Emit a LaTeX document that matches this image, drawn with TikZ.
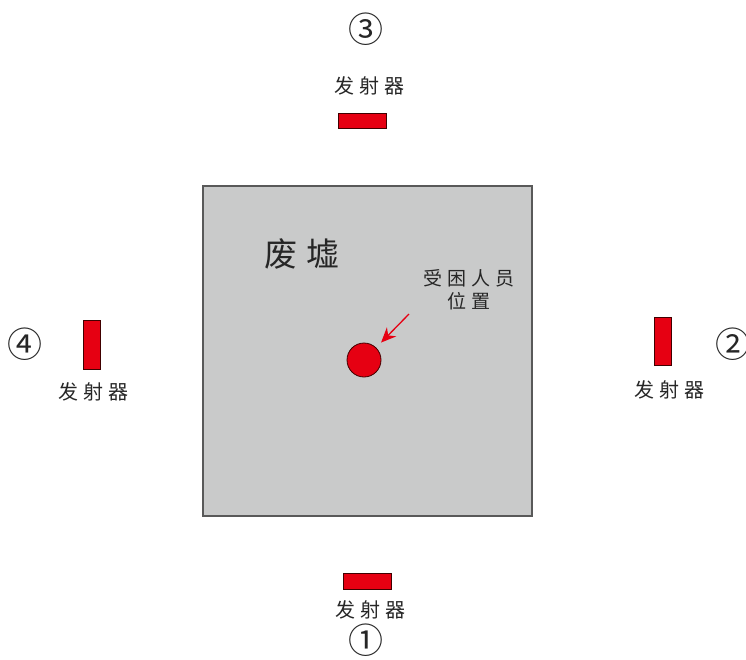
\documentclass[tikz,border=0pt]{standalone}
\usepackage{fontspec}
\usetikzlibrary{arrows.meta}
\newfontfamily\cjk[LetterSpace=25]{Noto Sans CJK SC}
\newfontfamily\cjknum{Noto Sans CJK SC}
\definecolor{ruingray}{HTML}{C9CACA}
\definecolor{emitred}{HTML}{E60012}
\begin{document}
\begin{tikzpicture}[x=1pt,y=-1pt,
  emitter/.style={fill=emitred,draw=black!75!red,line width=0.8pt},
  tag/.style={font=\cjk\fontsize{20}{22}\selectfont,text=black!85,inner sep=0pt},
  num/.style={font=\cjknum\fontsize{35}{36}\selectfont,text=black!85,inner sep=0pt}]
\useasboundingbox (0,0) rectangle (746,659);
% ruins
\draw [fill = ruingray, draw = black!65, line width = 1.5pt] (203,186) rectangle (532,516);
\node[tag,font=\cjk\fontsize{33}{36}\selectfont] (ruins) at (302,254) {废墟};
\node[tag,align=center,font=\cjk\fontsize{19}{23}\selectfont] (victimtag) at (469,290) {受困人员\\位置};
\node[circle,fill=emitred,draw=black!75!red,line width=0.8pt,minimum size=34pt,inner sep=0pt] (victim) at (364,360) {};
\draw [emitred, line width=1.3pt, -{Stealth[length=15pt,width=13pt]}, shorten >=7pt] (409,314) -- (victim);
% emitters
\foreach \xa/\ya/\xb/\yb in {343/573/391/589, 654/317/671/365, 338/113/386/128, 83/320/100/369}
  \draw [emitter] (\xa,\ya) rectangle (\xb,\yb);
\node[tag] (tag1) at (370,610) {发射器};
\node[tag] (tag2) at (669,390) {发射器};
\node[tag] (tag3) at (369,86) {发射器};
\node[tag] (tag4) at (93,392) {发射器};
\node[num] (num1) at (366,640) {①};
\node[num] (num2) at (733,344) {②};
\node[num] (num3) at (366,29) {③};
\node[num] (num4) at (25,344) {④};
\end{tikzpicture}
\end{document}
